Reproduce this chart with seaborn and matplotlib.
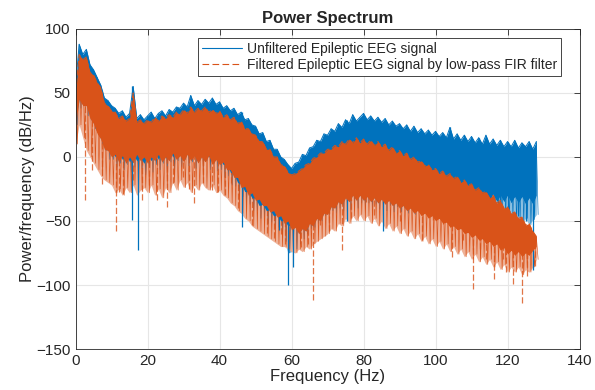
import numpy as np
import matplotlib
matplotlib.use("Agg")
import matplotlib.pyplot as plt
import seaborn as sns

# frequency grid (Hz), one reading per Hz
freq = np.arange(0, 129)

# unfiltered signal: top edge, bottom of the solid band, bottom of the spiky zone
unf_hi = [55, 88, 80, 84, 72, 68, 62, 56, 46, 44,
          40, 38, 34, 36, 31, 34, 55, 30, 33, 29,
          32, 35, 30, 34, 36, 32, 37, 35, 39, 38,
          42, 39, 48, 40, 44, 41, 45, 42, 46, 41,
          43, 38, 40, 36, 38, 33, 35, 29, 30, 25,
          24, 18, 19, 12, 13, 6, 6, 0, -2, -6,
          -9, -5, -4, 2, 1, 7, 8, 13, 12, 18,
          17, 22, 20, 26, 23, 29, 26, 33, 28, 31,
          34, 29, 32, 28, 31, 27, 30, 25, 28, 24,
          26, 22, 25, 20, 24, 19, 22, 18, 21, 17,
          20, 16, 19, 15, 23, 14, 18, 13, 17, 12,
          16, 11, 15, 10, 17, 10, 14, 9, 13, 8,
          12, 8, 13, 7, 11, 8, 12, 6, 12]
unf_lo = [30, 45, 50, 42, 40, 32, 30, 20, 15, 8,
          8, 0, 4, -2, 3, -4, 2, -3, 0, -5,
          2, -3, 4, -2, 5, -1, 6, 0, 7, 2,
          8, 3, 6, 1, 8, 2, 7, 0, 5, -1,
          0, -6, -5, -12, -13, -20, -21, -27, -27, -32,
          -32, -38, -37, -42, -41, -46, -45, -50, -49, -54,
          -52, -53, -47, -48, -41, -42, -36, -37, -31, -32,
          -27, -30, -24, -28, -22, -27, -21, -26, -20, -25,
          -19, -25, -20, -26, -21, -26, -22, -27, -22, -28,
          -23, -28, -23, -29, -24, -29, -24, -30, -25, -30,
          -25, -31, -26, -31, -26, -32, -27, -32, -27, -33,
          -28, -33, -28, -34, -29, -34, -29, -35, -30, -35,
          -30, -36, -31, -36, -31, -37, -32, -37, -30]
unf_floor = [25, 38, 42, 32, 30, 22, 20, 10, 5, -2,
             -2, -8, -5, -10, -6, -12, -8, -12, -9, -14,
             -8, -12, -6, -10, -5, -11, -4, -10, -3, -8,
             -2, -7, -4, -9, -2, -8, -3, -10, -5, -11,
             -10, -16, -15, -22, -23, -30, -31, -37, -37, -42,
             -42, -48, -47, -52, -51, -56, -55, -62, -66, -75,
             -74, -72, -68, -64, -60, -56, -55, -52, -50, -46,
             -45, -42, -44, -40, -42, -38, -41, -37, -40, -36,
             -39, -36, -40, -37, -41, -38, -42, -38, -43, -39,
             -43, -40, -44, -40, -45, -41, -45, -42, -46, -42,
             -46, -42, -47, -43, -47, -43, -48, -44, -48, -44,
             -49, -45, -49, -45, -50, -46, -50, -46, -51, -47,
             -51, -47, -52, -48, -52, -48, -53, -49, -45]
unf_dip_f = [15.6, 17.3, 46.2, 56.6, 59.1, 60.5, 64.3, 75.4, 85.3, 101, 104, 108, 112, 115,
             118, 120, 123, 125, 127]
unf_dip_v = [-49, -73, -55, -57, -100, -86, -56, -50, -58, -38, -42, -40, -45, -44,
             -48, -42, -46, -50, -88]

# filtered signal (low-pass FIR)
filt_hi = [50, 80, 76, 78, 66, 64, 58, 54, 42, 40,
           36, 35, 30, 32, 28, 30, 50, 27, 29, 26,
           29, 27, 31, 28, 32, 30, 33, 31, 35, 33,
           37, 34, 39, 35, 38, 36, 39, 35, 37, 34,
           36, 31, 33, 29, 31, 26, 28, 22, 22, 18,
           17, 12, 12, 6, 6, 0, 0, -6, -7, -12,
           -14, -13, -11, -9, -6, -5, -1, 0, 3, 3,
           6, 6, 9, 8, 12, 10, 14, 11, 15, 11,
           14, 10, 13, 9, 12, 8, 10, 5, 8, 3,
           5, 1, 3, -2, 0, -4, -3, -7, -6, -10,
           -9, -13, -11, -15, -13, -17, -15, -20, -18, -22,
           -21, -26, -24, -28, -27, -32, -30, -36, -34, -40,
           -39, -44, -43, -48, -47, -53, -52, -58, -62]
filt_lo = [25, 45, 40, 40, 30, 26, 18, 14, 6, 5,
           0, 2, -4, 1, -5, 0, -4, 2, -3, 0,
           -5, 0, -3, 2, -4, 0, -3, 3, -2, 1,
           -4, 2, -3, 1, -5, 0, -4, 1, -6, -2,
           -6, -4, -10, -10, -16, -16, -24, -23, -30, -28,
           -34, -33, -38, -38, -43, -42, -47, -46, -52, -50,
           -57, -55, -60, -56, -58, -52, -54, -48, -50, -44,
           -45, -39, -40, -35, -37, -32, -35, -30, -34, -30,
           -34, -31, -35, -32, -36, -33, -37, -34, -38, -36,
           -40, -38, -42, -40, -44, -42, -46, -44, -48, -46,
           -50, -48, -52, -51, -55, -54, -57, -56, -60, -59,
           -63, -61, -65, -64, -68, -66, -70, -68, -73, -71,
           -76, -73, -77, -74, -78, -75, -77, -73, -70]
filt_floor = [10, 25, 15, 5, 0, -5, -10, -15, -18, -20,
              -22, -28, -25, -30, -24, -28, -22, -30, -26, -24,
              -28, -22, -30, -25, -32, -24, -28, -20, -26, -18,
              -24, -20, -28, -22, -26, -20, -24, -26, -22, -28,
              -26, -30, -32, -36, -38, -42, -44, -48, -50, -54,
              -56, -58, -60, -62, -64, -66, -68, -70, -70, -72,
              -74, -75, -72, -74, -70, -72, -68, -66, -64, -62,
              -60, -56, -58, -52, -54, -48, -52, -46, -50, -45,
              -50, -46, -52, -48, -54, -50, -56, -52, -58, -54,
              -60, -56, -62, -58, -64, -60, -66, -62, -68, -64,
              -70, -66, -72, -68, -74, -70, -76, -72, -78, -74,
              -80, -76, -82, -78, -84, -80, -86, -82, -88, -84,
              -90, -86, -90, -86, -92, -88, -90, -86, -80]
filt_dip_f = [2.6, 4.5, 7.3, 11.2, 12, 13.3, 16, 18.5, 20.5, 22.7, 25.3, 27, 29.8, 31.5,
              33, 35.5, 37.8, 39.6, 41.5, 43.3, 45, 49, 51.4, 53.2, 55, 57, 58.3, 62.5,
              64.5, 65.9, 67.8, 70.5, 73.9, 76.5, 80.6, 83, 87.4, 90, 93.9, 96.2, 99.4,
              102.2, 104.5, 107.7, 110.3, 112.4, 114, 116.2, 118.8, 119.5, 121.4, 124.1,
              125.4, 127.5]
filt_dip_v = [-34, -10, -21, -58, -27, -29, -18, -34, -22, -34, -39, -20, -16, -25,
              -36, -20, -26, -27, -30, -20, -40, -53, -37, -59, -63, -60, -68, -70,
              -68, -112, -53, -58, -73, -48, -35, -45, -30, -50, -42, -65, -49,
              -52, -78, -65, -103, -72, -80, -95, -80, -90, -99, -114,
              -93, -85]

labels = ["Unfiltered Epileptic EEG signal",
          "Filtered Epileptic EEG signal by low-pass FIR filter"]
colors = ["#0072BD", "#D95319"]
light = ["#8CC0E1", "#EEB197"]


def zigzag(hi, lo):
    # top reading at each Hz, bottom reading half a Hz later
    x = np.ravel(np.column_stack([freq, freq + 0.5]))
    y = np.ravel(np.column_stack([hi, lo]))
    return x, y


sns.set_style("whitegrid")
plt.rcParams["font.family"] = ["Liberation Sans", "DejaVu Sans"]

fig = plt.figure(figsize=(5.95, 3.9), dpi=100)
ax = fig.add_axes([0.127, 0.105, 0.847, 0.821])

# spiky lower zones
ax.fill_between(freq, unf_floor, unf_lo, color=light[0], lw=0, zorder=1)
ax.fill_between(freq, filt_floor, filt_lo, color=light[1], lw=0, zorder=1)
zx, zy = zigzag(unf_hi, unf_floor)
ax.plot(zx, zy, color=colors[0], lw=0.45, zorder=1)
zx, zy = zigzag(filt_hi, filt_floor)
ax.plot(zx, zy, color=colors[1], lw=0.45, zorder=1)

# deep dips
ax.vlines(unf_dip_f, unf_dip_v, [unf_hi[int(round(f))] for f in unf_dip_f],
          color=colors[0], lw=0.9, zorder=1)
ax.vlines(filt_dip_f, filt_dip_v, [filt_hi[int(round(f))] for f in filt_dip_f],
          color=colors[1], lw=0.9, alpha=0.8, linestyles=(0, (5, 2)), zorder=1)

# dense bands
ax.fill_between(freq, unf_lo, unf_hi, color=colors[0], lw=0, zorder=1)
sns.lineplot(x=freq, y=unf_hi, ax=ax, color=colors[0], lw=0.7,
             estimator=None, label=labels[0], zorder=1)
ax.fill_between(freq, filt_lo, filt_hi, color=colors[1], lw=0, zorder=1)
sns.lineplot(x=freq, y=filt_hi, ax=ax, color=colors[1], lw=0.7,
             estimator=None, label=labels[1], zorder=1)
ax.lines[-1].set_dashes((6, 3))

ax.set_xlim(0, 140)
ax.set_ylim(-150, 100)
ax.set_xticks(np.arange(0, 141, 20))
ax.set_yticks(np.arange(-150, 101, 50))
ax.grid(True, color="#e6e6e6", lw=0.8, zorder=0)
ax.set_axisbelow(True)
for s in ax.spines.values():
    s.set_color("#262626")
    s.set_linewidth(0.6)
ax.tick_params(direction="in", length=4, width=0.6, top=True, right=True,
               labelsize=11, colors="#262626")

ax.set_title("Power Spectrum", fontsize=12, fontweight="bold", pad=4)
ax.set_xlabel("Frequency (Hz)", fontsize=12, labelpad=1)
ax.set_ylabel("Power/frequency (dB/Hz)", fontsize=12, labelpad=1)

leg = ax.legend(loc="upper right", bbox_to_anchor=(0.977, 0.993), fontsize=10,
                frameon=True, fancybox=False, handlelength=2.9, borderpad=0.3,
                labelspacing=0.15, handletextpad=0.3, framealpha=1)
leg.get_frame().set_edgecolor("#262626")
leg.get_frame().set_linewidth(0.6)
for h in leg.get_lines():
    h.set_linewidth(0.8)

fig.savefig("out.png", dpi=100)
